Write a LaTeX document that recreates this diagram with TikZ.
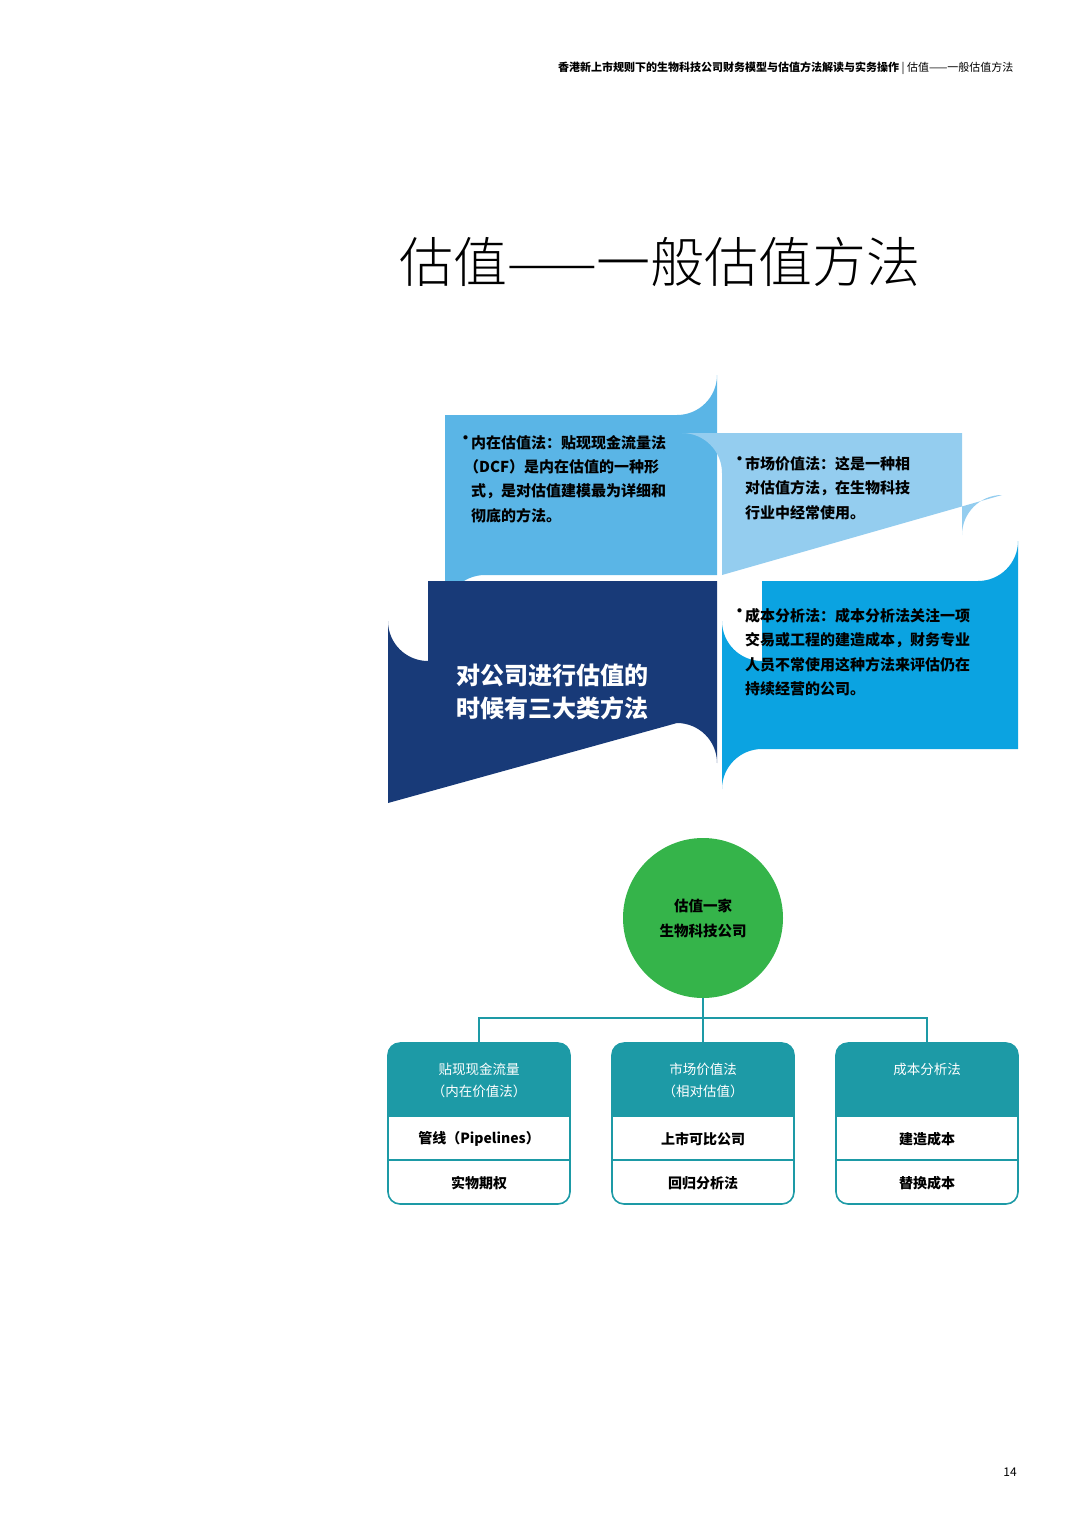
\documentclass[tikz,border=0pt]{standalone}
\usepackage{fontspec}
\setmainfont{Noto Sans CJK SC}
\newfontfamily\cjklight{Noto Sans CJK SC Light}
\usetikzlibrary{positioning}
\definecolor{boxA}{HTML}{5AB5E6}
\definecolor{boxB}{HTML}{94CDEF}
\definecolor{boxC}{HTML}{183A78}
\definecolor{boxD}{HTML}{0BA3E1}
\definecolor{tealc}{HTML}{1D9AA6}
\definecolor{greenc}{HTML}{35B44A}
\tikzset{
  bullettext/.style={font=\bfseries\fontsize{15}{24.5}\selectfont, align=left, anchor=north west, inner sep=0pt},
  headtext/.style={font=\fontsize{13.5}{22}\selectfont, text=white, align=center},
  rowtext/.style={font=\bfseries\fontsize{14}{16}\selectfont},
  methodbox/.style={draw=tealc, line width=1.6pt, rounded corners=12pt},
}
\begin{document}
\begin{tikzpicture}[x=1pt, y=-1pt]
\useasboundingbox (0,0) rectangle (1080,1527);

% header
\node[anchor=east, font=\bfseries\fontsize{11}{12}\selectfont] (hdr) at (1017,68) {香港新上市规则下的生物科技公司财务模型与估值方法解读与实务操作\ {\mdseries |}\ {\mdseries 估值——一般估值方法}};
\node[font=\cjklight\fontsize{54}{60}\selectfont] (title) at (660,262) {估值——一般估值方法};

% four blocks
\fill[boxA] (445,415) -- (677,415) arc[start angle=90, end angle=0, radius=40] -- (717,575) -- (485,575) arc[start angle=270, end angle=180, radius=40] -- cycle;
\fill[boxB] (762,433) -- (962,433) -- (962,535) arc[start angle=0, end angle=90, radius=-40] -- (722,575) -- (722,473) arc[start angle=180, end angle=90, radius=-40] -- cycle;
\fill[boxC] (428,581) -- (717,581) -- (717,763) arc[start angle=0, end angle=-90, radius=40] -- (388,803) -- (388,621) arc[start angle=180, end angle=90, radius=40] -- cycle;
\fill[boxD] (762,581) -- (978,581) arc[start angle=90, end angle=0, radius=40] -- (1018,749) -- (762,749) arc[start angle=270, end angle=180, radius=40] -- (722,621) arc[start angle=180, end angle=90, radius=40] -- cycle;

\node[bullettext] (dotA) at (458,435) {•};
\node[bullettext] (txtA) at (471,435) {内在估值法：贴现现金流量法\\[-0.5pt]\hspace{-7pt}（DCF）是内在估值的一种形\\式，是对估值建模最为详细和\\彻底的方法。};
\node[bullettext] (dotB) at (732,456) {•};
\node[bullettext] (txtB) at (745,456) {市场价值法：这是一种相\\对估值方法，在生物科技\\行业中经常使用。};
\node[bullettext] (dotD) at (732,608) {•};
\node[bullettext] (txtD) at (745,608) {成本分析法：成本分析法关注一项\\交易或工程的建造成本，财务专业\\人员不常使用这种方法来评估仍在\\持续经营的公司。};
\node[font=\bfseries\fontsize{24}{33}\selectfont, text=white, align=left] (txtC) at (552,692) {对公司进行估值的\\时候有三大类方法};

% tree
\node[circle, fill=greenc, minimum size=160pt, inner sep=0pt, align=center, font=\bfseries\fontsize{14.5}{25}\selectfont] (root) at (703,918) {估值一家\\生物科技公司};

\foreach \name/\cx/\ha/\ra/\rb in {dcf/479/{贴现现金流量\\（内在价值法）}/{管线（Pipelines）}/实物期权,
                                    mkt/703/{市场价值法\\（相对估值）}/上市可比公司/回归分析法,
                                    cost/927/{成本分析法\\ \ }/建造成本/替换成本}{
  \begin{scope}
    \clip[rounded corners=12pt] (\cx-91,1043) rectangle (\cx+91,1204);
    \fill[tealc] (\cx-91,1043) rectangle (\cx+91,1117);
  \end{scope}
  \draw[methodbox] (\cx-91,1043) rectangle (\cx+91,1204);
  \draw[tealc, line width=1.6pt] (\cx-91,1160) -- (\cx+91,1160);
  \coordinate (\name top) at (\cx,1043);
  \node[headtext] (\name head) at (\cx,1080) {\ha};
  \node[rowtext] (\name one) at (\cx,1139) {\ra};
  \node[rowtext] (\name two) at (\cx,1183) {\rb};
}
\coordinate (junction) at (703,1018);
\draw[tealc, line width=2pt] (root.south) -- (mkttop);
\draw[tealc, line width=2pt] (dcftop) |- (junction) -| (costtop);

\node[font=\fontsize{12}{12}\selectfont] (pageno) at (1010,1472) {14};
\end{tikzpicture}
\end{document}
